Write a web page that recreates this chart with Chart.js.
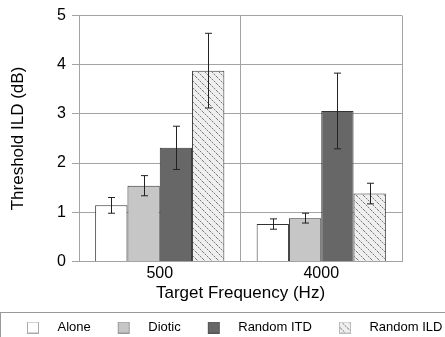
<!DOCTYPE html>
<html>
<head>
<meta charset="utf-8">
<script src="https://cdn.jsdelivr.net/npm/chart.js@4"></script>
<style>
  html, body { margin: 0; padding: 0; background: #fff; }
  #wrap { width: 445px; height: 337px; }
</style>
</head>
<body>
<div id="wrap"><canvas id="barChart"></canvas></div>
<script>
// Dados
const categories = ['500', '4000'];
const seriesNames = ['Alone', 'Diotic', 'Random ITD', 'Random ILD'];
const alone = [1.14, 0.76];
const diotic = [1.54, 0.88];
const randomItd = [2.31, 3.06];
const randomIld = [3.88, 1.38];
// erro (metade da barra de erro)
const aloneErr = [0.16, 0.105];
const dioticErr = [0.205, 0.1];
const randomItdErr = [0.44, 0.77];
const randomIldErr = [0.76, 0.21];
const yTicks = [0, 1, 2, 3, 4, 5];

const gridColor = '#a3a3a3';
const edgeColor = '#333';

// Padrão hachurado (pontilhado diagonal)
function makeHatch() {
  const c = document.createElement('canvas');
  c.width = 7; c.height = 7;
  const g = c.getContext('2d');
  g.fillStyle = '#efefef';
  g.fillRect(0, 0, 7, 7);
  for (let i = 0; i < 7; i++) {
    g.fillStyle = i % 2 === 0 ? '#7a7a7a' : '#c4c4c4';
    g.fillRect(i, i, 1, 1);
  }
  return g.createPattern(c, 'repeat');
}
const hatch = makeHatch();

const fills = ['#ffffff', '#c6c6c6', '#676767', hatch];

// Ícone da legenda: espaço à esquerda + quadrado
function legendIcon(fill, border) {
  const c = document.createElement('canvas');
  c.width = 50; c.height = 12;
  const g = c.getContext('2d');
  g.fillStyle = fill;
  g.fillRect(26, 0, 12, 12);
  g.strokeStyle = border;
  g.lineWidth = 1;
  g.strokeRect(26.5, 0.5, 11, 11);
  return c;
}
const icons = [
  legendIcon('#ffffff', '#aaa'),
  legendIcon('#c6c6c6', '#999'),
  legendIcon('#676767', '#555'),
  legendIcon(hatch, '#bbb')
];

const errors = [aloneErr, dioticErr, randomItdErr, randomIldErr];

// Barras de erro
const errorBars = {
  id: 'errorBars',
  afterDatasetsDraw(chart) {
    const ctx = chart.ctx;
    const y = chart.scales.y;
    ctx.save();
    ctx.strokeStyle = '#222';
    ctx.lineWidth = 1;
    chart.data.datasets.forEach((ds, i) => {
      chart.getDatasetMeta(i).data.forEach((bar, j) => {
        const v = ds.data[j];
        const e = errors[i][j];
        const x = Math.round(bar.x) + 0.5;
        const top = y.getPixelForValue(v + e);
        const bot = y.getPixelForValue(v - e);
        ctx.beginPath();
        ctx.moveTo(x, top); ctx.lineTo(x, bot);
        ctx.moveTo(x - 3.5, top); ctx.lineTo(x + 3.5, top);
        ctx.moveTo(x - 3.5, bot); ctx.lineTo(x + 3.5, bot);
        ctx.stroke();
      });
    });
    ctx.restore();
  }
};

// Moldura da legenda
const legendFrame = {
  id: 'legendFrame',
  afterDraw(chart) {
    const ctx = chart.ctx;
    ctx.save();
    ctx.strokeStyle = '#999';
    ctx.lineWidth = 1;
    ctx.strokeRect(0.5, 312.5, 460, 40);
    ctx.restore();
  }
};

const barChart = document.getElementById('barChart').getContext('2d');
const values = [alone, diotic, randomItd, randomIld];

new Chart(barChart, {
  type: 'bar',
  data: {
    labels: categories,
    datasets: seriesNames.map((name, i) => ({
      label: name,
      data: values[i],
      backgroundColor: fills[i],
      borderColor: edgeColor,
      borderWidth: 1,
      categoryPercentage: 0.8,
      barPercentage: 1.0
    }))
  },
  options: {
    responsive: true,
    maintainAspectRatio: false,
    animation: false,
    // padding negativo à direita para a legenda caber numa linha
    layout: { padding: { top: 15, right: -20, bottom: -7, left: 0 } },
    plugins: {
      tooltip: { enabled: false },
      legend: {
        position: 'bottom',
        align: 'start',
        labels: {
          usePointStyle: true,
          pointStyleWidth: 50,
          padding: 1,
          color: '#000',
          font: { family: 'Liberation Sans', size: 13 },
          generateLabels: (chart) => chart.data.datasets.map((ds, i) => ({
            text: ds.label,
            pointStyle: icons[i],
            datasetIndex: i,
            hidden: false,
            fontColor: '#000'
          }))
        }
      }
    },
    scales: {
      x: {
        grid: { color: gridColor, drawTicks: false, offset: true },
        border: { color: gridColor },
        ticks: {
          color: '#000',
          padding: 3,
          font: { family: 'Liberation Sans', size: 16 }
        },
        title: {
          display: true,
          text: 'Target Frequency (Hz)',
          color: '#000',
          padding: { top: -3, bottom: 16 },
          font: { family: 'Liberation Sans', size: 17 }
        }
      },
      y: {
        min: 0,
        max: 5,
        afterFit: (scale) => { scale.width = 79; },
        afterBuildTicks: (scale) => { scale.ticks = yTicks.map(v => ({ value: v })); },
        grid: { color: gridColor, tickLength: 7 },
        border: { color: gridColor },
        ticks: {
          color: '#000',
          padding: 6,
          font: { family: 'Liberation Sans', size: 16 }
        },
        title: {
          display: true,
          text: 'Threshold ILD (dB)',
          color: '#000',
          padding: { top: 8 },
          font: { family: 'Liberation Sans', size: 17 }
        }
      },
      // eixo invisível só para reservar margem à direita
      y2: {
        position: 'right',
        min: 0,
        max: 5,
        afterFit: (scale) => { scale.width = 63; },
        grid: { display: false },
        border: { display: false },
        ticks: { display: false }
      }
    }
  },
  plugins: [errorBars, legendFrame]
});
</script>
</body>
</html>
